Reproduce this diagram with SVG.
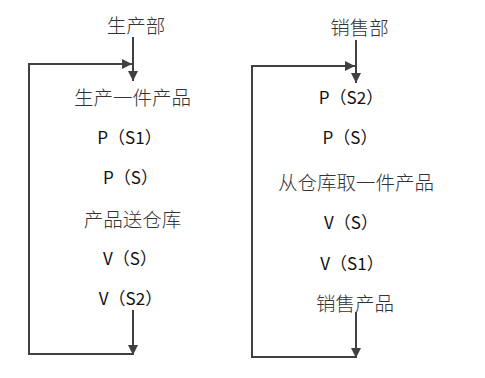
<svg xmlns="http://www.w3.org/2000/svg" width="485" height="378" viewBox="0 0 485 378">
<style>
.cjk{font-family:"Noto Sans CJK SC","Noto Sans",sans-serif;font-size:19.5px;fill:#333;text-anchor:middle;font-weight:300}
.lat{font-family:"Noto Sans CJK SC","Noto Sans",sans-serif;font-size:17px;fill:#111;text-anchor:middle}
.ln{fill:none;stroke:#404040;stroke-width:2}
</style>
<defs>
<marker id="ah" viewBox="0 0 10 10" refX="10" refY="5" markerWidth="10" markerHeight="10" markerUnits="userSpaceOnUse" orient="auto">
<path d="M0,0 L10,5 L0,10 Z" fill="#404040"/>
</marker>
</defs>
<rect width="485" height="378" fill="#fff"/>
<g id="connectors">
<path class="ln" d="M133,37 V81" marker-end="url(#ah)"/>
<path class="ln" d="M133,354 H29 V64 H132" marker-end="url(#ah)"/>
<path class="ln" d="M133,310 V355" marker-end="url(#ah)"/>
<path class="ln" d="M356,40 V83" marker-end="url(#ah)"/>
<path class="ln" d="M356,357 H252 V66 H355" marker-end="url(#ah)"/>
<path class="ln" d="M356,312 V358" marker-end="url(#ah)"/>
</g>
<g id="prod-title"><text class="cjk" x="136" y="32.5">生产部</text></g>
<g id="prod-1"><text class="cjk" x="132.5" y="104.5">生产一件产品</text></g>
<g id="prod-2"><text class="lat" x="129.5" y="143.5">P（S1）</text></g>
<g id="prod-3"><text class="lat" x="130.5" y="183.5">P（S）</text></g>
<g id="prod-4"><text class="cjk" x="132.5" y="226.5">产品送仓库</text></g>
<g id="prod-5"><text class="lat" x="130" y="264.5">V（S）</text></g>
<g id="prod-6"><text class="lat" x="130.5" y="304.5">V（S2）</text></g>
<g id="sale-title"><text class="cjk" x="359.5" y="34.5">销售部</text></g>
<g id="sale-1"><text class="lat" x="351" y="103.5">P（S2）</text></g>
<g id="sale-2"><text class="lat" x="350" y="143.5">P（S）</text></g>
<g id="sale-3"><text class="cjk" x="356" y="189.5">从仓库取一件产品</text></g>
<g id="sale-4"><text class="lat" x="351" y="228.5">V（S）</text></g>
<g id="sale-5"><text class="lat" x="352" y="269.5">V（S1）</text></g>
<g id="sale-6"><text class="cjk" x="355" y="310.5">销售产品</text></g>
</svg>
